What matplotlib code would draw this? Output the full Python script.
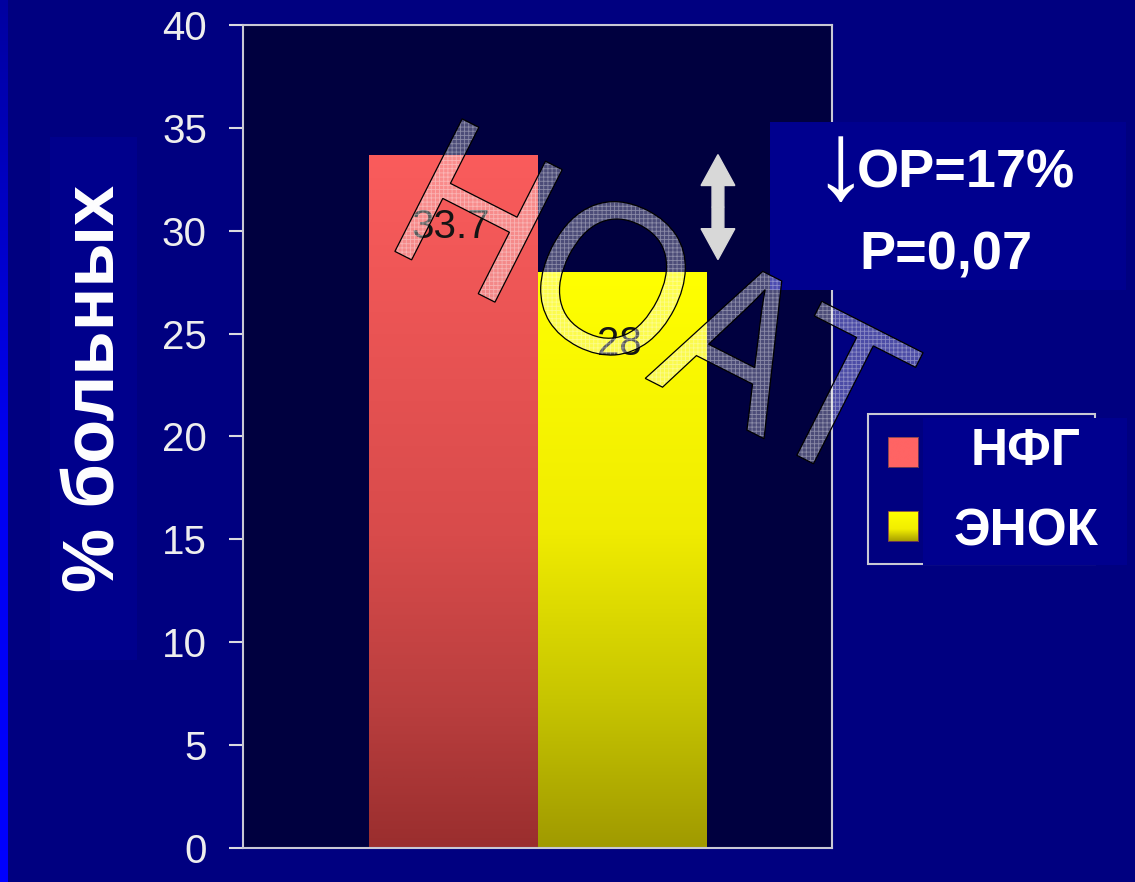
import numpy as np
import matplotlib
matplotlib.use('Agg')
import matplotlib.pyplot as plt
from matplotlib.colors import LinearSegmentedColormap
from matplotlib.patches import Rectangle, PathPatch, FancyArrow
from matplotlib.textpath import TextPath
from matplotlib.font_manager import FontProperties
from matplotlib.transforms import Affine2D

plt.rcParams['font.family'] = ['Liberation Sans', 'DejaVu Sans']
plt.rcParams['hatch.linewidth'] = 0.6

W, H = 1135, 882

# data
groups = ['НФГ', 'ЭНОК']
values = [33.7, 28]
yticks = [0, 5, 10, 15, 20, 25, 30, 35, 40]
ylabel = '% больных'
rr_text = 'ОР=17%'
p_text = 'Р=0,07'
stamp = 'НОАТ'

# gradient stops for each bar (0 = top of bar, 1 = bottom)
bar_stops = [
    [(0.0, '#FA5C5C'), (0.55, '#D84B4B'), (0.8, '#B93E3E'), (1.0, '#9A2E2E')],
    [(0.0, '#FFFF00'), (0.45, '#F0EC00'), (0.75, '#C6C400'), (1.0, '#A09A00')],
]
swatch_stops = [
    [(0.0, '#FF6464'), (1.0, '#FF6464')],
    [(0.0, '#FFFF00'), (0.6, '#F2EE00'), (1.0, '#A8A000')],
]

BG = '#000080'
BOX = '#00008C'


def px(x0, y0, x1, y1):
    # pixel box (top-left origin) -> figure fraction rect
    return [x0 / W, 1 - y1 / H, (x1 - x0) / W, (y1 - y0) / H]


fig = plt.figure(figsize=(W / 100, H / 100), dpi=100, facecolor=BG)

# bright strip on the left edge
strip = fig.add_axes(px(0, 0, 8, H), zorder=-1)
strip.imshow(np.linspace(0, 1, 256).reshape(-1, 1), aspect='auto',
             cmap=LinearSegmentedColormap.from_list('s', ['#0000A0', '#0000F0', '#0000FF']))
strip.axis('off')

# y-label panel
fig.add_artist(Rectangle((50 / W, 1 - 660 / H), 87 / W, 523 / H,
                         transform=fig.transFigure, facecolor=BOX, edgecolor='none', zorder=0.5))
fig.text(96 / W, 1 - 388 / H, ylabel, rotation=90, ha='center', va='center',
         fontsize=52, fontweight='bold', color='white', zorder=1)

ax = fig.add_axes(px(243, 25, 832, 848), zorder=1)
ax.set_facecolor('#00003F')

x = np.arange(len(values))
bars = ax.bar(x, values, width=1.0, color='none', edgecolor='none')
grad = np.linspace(0, 1, 256).reshape(-1, 1)
for bar, stops in zip(bars, bar_stops):
    cmap = LinearSegmentedColormap.from_list('g', stops)
    bx, bw, bh = bar.get_x(), bar.get_width(), bar.get_height()
    im = ax.imshow(grad, extent=[bx, bx + bw, 0, bh], aspect='auto', cmap=cmap,
                   origin='upper', zorder=2)
    im.set_clip_path(bar)

for xi, v in zip(x, values):
    ax.annotate(f'{v:g}', (xi, v), xytext=(-3, -72), textcoords='offset pixels',
                ha='center', va='center', fontsize=29, color='#141414', zorder=3)

# double-headed arrow showing the difference
ax_x = 1.565
y_top, y_bot = values[0], values[1] + 0.6
mid = (y_top + y_bot) / 2
for end in (y_top, y_bot):
    ax.add_patch(FancyArrow(ax_x, mid, 0, end - mid, width=0.07, head_width=0.2,
                            head_length=1.5, length_includes_head=True,
                            color='#D8D8D8', zorder=4))

ax.set_xlim(-1.246, 2.24)
ax.set_ylim(0, 40)
ax.set_yticks(yticks)
ax.set_xticks([])
ax.tick_params(axis='y', direction='out', length=10, width=1.5, colors='#DADAE0',
               labelsize=29, labelcolor='#EEEEEE', pad=16)
for s in ax.spines.values():
    s.set_color('#C8C8D4')
    s.set_linewidth(1.5)

# statistics box
fig.add_artist(Rectangle((770 / W, 1 - 290 / H), 356 / W, 168 / H,
                         transform=fig.transFigure, facecolor='#00008E', edgecolor='none', zorder=2))
fig.text(840 / W, 1 - 170 / H, '↓', ha='center', va='center', fontsize=80,
         color='white', zorder=3)
fig.text(966 / W, 1 - 187 / H, rr_text, ha='center', va='baseline', fontsize=39,
         fontweight='bold', color='white', zorder=3)
fig.text(946 / W, 1 - 270 / H, p_text, ha='center', va='baseline', fontsize=39,
         fontweight='bold', color='white', zorder=3)

# legend
fig.add_artist(Rectangle((868 / W, 1 - 564 / H), 227 / W, 150 / H,
                         transform=fig.transFigure, facecolor=BG, edgecolor='#C8C8D4',
                         linewidth=1.5, zorder=3))
fig.add_artist(Rectangle((923 / W, 1 - 565 / H), 204 / W, 147 / H,
                         transform=fig.transFigure, facecolor='#00008E', edgecolor='none', zorder=4))
swatch_y = [437, 511]
label_base = [465, 545]
for name, stops, sy, ly in zip(groups, swatch_stops, swatch_y, label_base):
    sw = fig.add_axes(px(888, sy, 918, sy + 30), zorder=5)
    sw.imshow(grad, aspect='auto', cmap=LinearSegmentedColormap.from_list('w', stops))
    sw.set_xticks([])
    sw.set_yticks([])
    for s in sw.spines.values():
        s.set_color('#7A4050')
        s.set_linewidth(0.6)
    fig.text(1026 / W, 1 - ly / H, name, ha='center', va='baseline', fontsize=37,
             fontweight='bold', color='white', zorder=6)

# diagonal outlined stamp across the chart
tp = TextPath((0, 0), stamp, size=216, prop=FontProperties(family='Liberation Sans'))
ext = tp.get_extents()
cx, cy = (ext.x0 + ext.x1) / 2, (ext.y0 + ext.y1) / 2
to_fig = (Affine2D().translate(-cx, -cy).scale(0.93, 1.0).rotate_deg(-26.9)
          .translate(659, H - 302).scale(1 / W, 1 / H) + fig.transFigure)
fig.add_artist(PathPatch(tp, transform=to_fig, facecolor=(1, 1, 1, 0.3),
                         edgecolor='none', zorder=10))
fig.add_artist(PathPatch(tp, transform=to_fig, facecolor='none',
                         edgecolor=(1, 1, 1, 0.35), linewidth=0, hatch='++++', zorder=10.5))
fig.add_artist(PathPatch(tp, transform=to_fig, facecolor='none', edgecolor='black',
                         linewidth=0.9, zorder=11))

fig.savefig('out.png', dpi=100, facecolor=BG)
